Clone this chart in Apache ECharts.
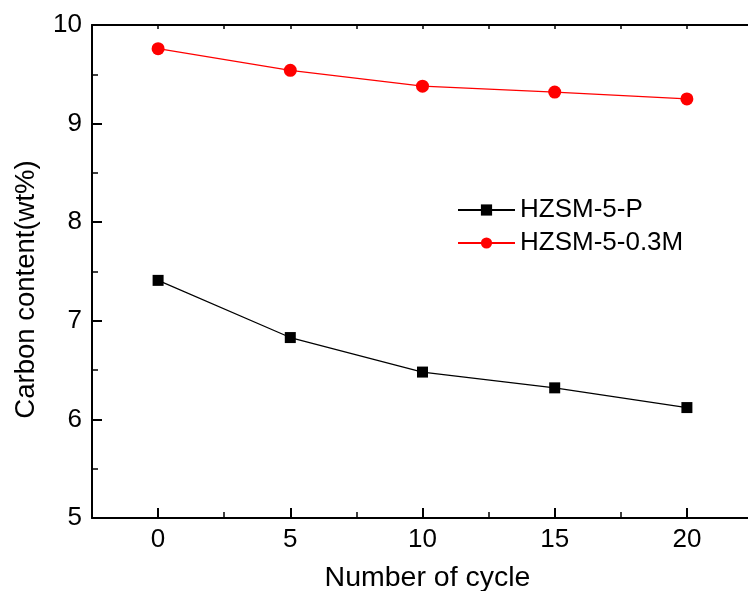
<!DOCTYPE html>
<html><head><meta charset="utf-8">
<script src="https://cdn.jsdelivr.net/npm/echarts@6/dist/echarts.min.js"></script>
<style>html,body{margin:0;padding:0;background:#fff;overflow:hidden}#c{width:748px;height:591px}</style>
</head><body><div id="c"></div>
<script>
const cycles = [0, 5, 10, 15, 20];
const seriesP = [7.41, 6.83, 6.48, 6.32, 6.12];
const series03M = [9.76, 9.54, 9.38, 9.32, 9.25];
const xMajorTicks = [0, 5, 10, 15, 20];
const xMinorTicks = [2.5, 7.5, 12.5, 17.5];
const xTopTicks = [0, 2.5, 5, 7.5, 10, 12.5, 15, 17.5, 20];
const xTitle = 'Number of cycle';
const yTitle = 'Carbon content(wt%)';
const names = ['HZSM-5-P', 'HZSM-5-0.3M'];

const font = 'Liberation Sans, Arial, sans-serif';
const chart = echarts.init(document.getElementById('c'), null, {renderer: 'canvas'});
const lineStyleAxis = {color: '#000', width: 2};
chart.setOption({
  animation: false,
  backgroundColor: '#fff',
  grid: {left: 92, top: 25, right: -5, bottom: 73, containLabel: false, outerBoundsMode: 'none'},
  legend: {
    orient: 'vertical', left: 452, top: 192, itemGap: 7,
    itemWidth: 57, itemHeight: 14,
    textStyle: {fontFamily: font, fontSize: 26, color: '#000'},
    data: names
  },
  xAxis: [{
    type: 'value', min: -2.5, max: 22.5, position: 'bottom',
    name: xTitle, nameLocation: 'middle', nameGap: 46,
    nameTextStyle: {fontFamily: font, fontSize: 28.5, color: '#000', padding: [0, 0, 0, 10]},
    axisLine: {show: true, onZero: false, lineStyle: lineStyleAxis},
    axisTick: {show: true, inside: true, length: 10, customValues: xMajorTicks, lineStyle: {color: '#000', width: 2}},
    axisLabel: {show: true, customValues: xMajorTicks, margin: 9, fontFamily: font, fontSize: 26, color: '#000'},
    splitLine: {show: false}
  }, {
    type: 'value', min: -2.5, max: 22.5, position: 'bottom',
    axisLine: {show: false},
    axisTick: {show: true, inside: true, length: 6, customValues: xMinorTicks, lineStyle: {color: '#000', width: 1.5}},
    axisLabel: {show: false},
    splitLine: {show: false}
  }, {
    type: 'value', min: -2.5, max: 22.5, position: 'top',
    axisLine: {show: true, onZero: false, lineStyle: lineStyleAxis},
    axisTick: {show: true, inside: true, length: 4, customValues: xTopTicks, lineStyle: {color: '#000', width: 1.5}},
    axisLabel: {show: false},
    splitLine: {show: false}
  }],
  yAxis: [{
    type: 'value', min: 5, max: 10, interval: 1, position: 'left',
    name: yTitle, nameLocation: 'middle', nameGap: 52,
    nameTextStyle: {fontFamily: font, fontSize: 27.5, color: '#000', padding: [0, 36, 0, 0]},
    axisLine: {show: true, onZero: false, lineStyle: lineStyleAxis},
    axisTick: {show: true, inside: true, length: 10, lineStyle: {color: '#000', width: 2}},
    minorTick: {show: true, splitNumber: 2, length: 6, lineStyle: {color: '#000', width: 1.5}},
    axisLabel: {margin: 10, fontFamily: font, fontSize: 26, color: '#000'},
    splitLine: {show: false}
  }],
  series: [{
    name: names[0], type: 'line', xAxisIndex: 0,
    data: cycles.map((c, i) => [c, seriesP[i]]),
    symbol: 'rect', symbolSize: 11,
    lineStyle: {color: '#000', width: 1.2},
    itemStyle: {color: '#000'}
  }, {
    name: names[1], type: 'line', xAxisIndex: 0,
    data: cycles.map((c, i) => [c, series03M[i]]),
    symbol: 'circle', symbolSize: 13,
    lineStyle: {color: '#ff0000', width: 1.2},
    itemStyle: {color: '#ff0000'}
  }]
});
</script></body></html>
